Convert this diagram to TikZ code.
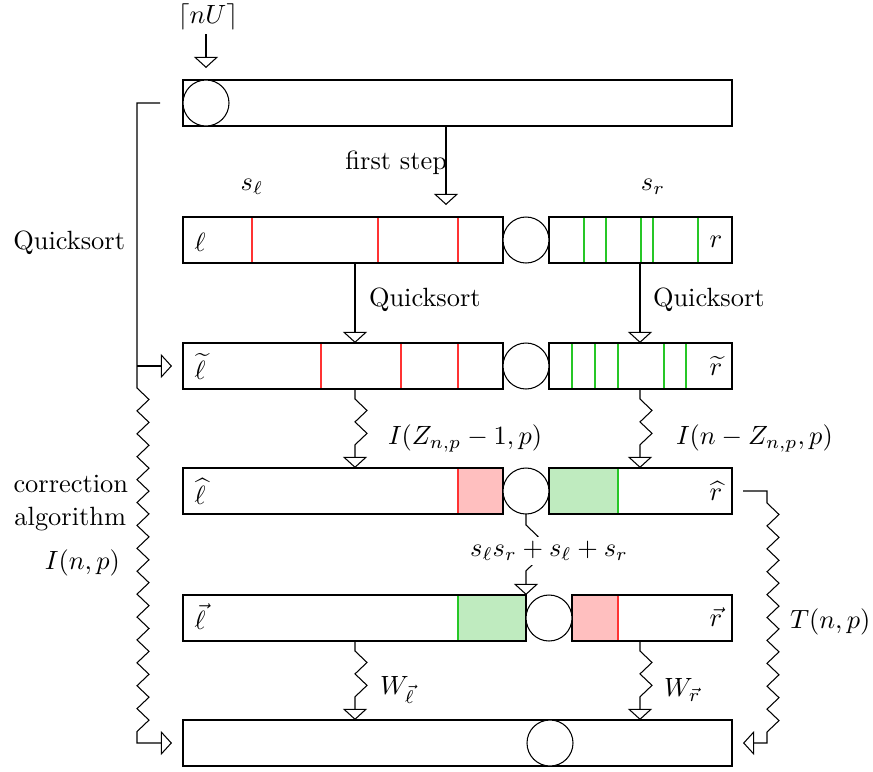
\documentclass[tikz,border=0pt]{standalone}
\usetikzlibrary{arrows.meta,calc,decorations.pathmorphing}
\pgfdeclaredecoration{halfzig}{start}{
  \state{start}[width=\pgfdecorationsegmentlength]{
    \pgfpathlineto{\pgfpoint{0.5\pgfdecorationsegmentlength}{\pgfdecorationsegmentamplitude}}
    \pgfpathlineto{\pgfpoint{\pgfdecorationsegmentlength}{0pt}}
  }
  \state{final}{\pgfpathlineto{\pgfpointdecoratedpathlast}}
}
\definecolor{redl}{rgb}{1,0.2,0.2}
\definecolor{greenl}{rgb}{0.15,0.78,0.15}
\definecolor{redfill}{rgb}{1,0.75,0.75}
\definecolor{greenfill}{rgb}{0.75,0.92,0.75}
\def\upx{0.379pt}
\begin{document}
\begin{tikzpicture}[x=0.379pt,y=-0.379pt, line width=0.4pt,
  box/.style={draw, rectangle, inner sep=0pt, outer sep=0pt, minimum height=46*\upx, anchor=north west},
  ring/.style={draw, circle, inner sep=0pt, outer sep=0pt, minimum size=46*\upx, fill=white},
  lbl/.style={inner sep=0pt, outer sep=0pt},
  arr/.style={-{Triangle[open,length=4.2pt,width=9.1pt]}},
  zzdec/.style={decoration={halfzig, segment length=8.68pt, amplitude=4.55pt}}
]
\useasboundingbox (0,0) rectangle (873,771);
% fills
\fill[redfill] (458,468) rectangle (503,514);
\fill[greenfill] (549,468) rectangle (618,514);
\fill[greenfill] (458,595) rectangle (526,641);
\fill[redfill] (572,595) rectangle (618,641);
\draw[redl] (458,468) -- (458,514);
\draw[greenl] (618,468) -- (618,514);
\draw[greenl] (458,595) -- (458,641);
\draw[redl] (618,595) -- (618,641);
\foreach \x in {252,378,458} \draw[redl] (\x,217) -- (\x,263);
\foreach \x in {584,606,641,653,698} \draw[greenl] (\x,217) -- (\x,263);
\foreach \x in {321,401,458} \draw[redl] (\x,343) -- (\x,389);
\foreach \x in {572,595,618,664,686} \draw[greenl] (\x,343) -- (\x,389);
% boxes
\node[box, minimum width=549*\upx] (b1) at (183,80) {};
\node[box, minimum width=320*\upx] (l2) at (183,217) {};
\node[box, minimum width=183*\upx] (r2) at (549,217) {};
\node[box, minimum width=320*\upx] (l3) at (183,343) {};
\node[box, minimum width=183*\upx] (r3) at (549,343) {};
\node[box, minimum width=320*\upx] (l4) at (183,468) {};
\node[box, minimum width=183*\upx] (r4) at (549,468) {};
\node[box, minimum width=343*\upx] (l5) at (183,595) {};
\node[box, minimum width=160*\upx] (r5) at (572,595) {};
\node[box, minimum width=549*\upx] (b6) at (183,720) {};
% circles
\node[ring] (c1) at (206,103) {};
\node[ring] (c2) at (526,240) {};
\node[ring] (c3) at (526,366) {};
\node[ring] (c4) at (526,491) {};
\node[ring] (c5) at (549,618) {};
\node[ring] (c6) at (550,743) {};
% labels in boxes
\node[lbl] (t2l) at (200,242) {$\ell$};
\node[lbl] (t2r) at (716,242) {$r$};
\node[lbl] (t3l) at (200,366) {$\widetilde{\ell}$};
\node[lbl] (t3r) at (716,366) {$\widetilde{r}$};
\node[lbl] (t4l) at (200,491) {$\widehat{\ell}$};
\node[lbl] (t4r) at (716,491) {$\widehat{r}$};
\node[lbl] (t5l) at (200,617) {$\vec{\ell}$};
\node[lbl] (t5r) at (716,617) {$\vec{r}$};
% other labels
\node[lbl] (nU) at (208,17) {$\lceil nU\rceil$};
\node[lbl, anchor=east] (fs) at (447,163) {first step};
\node[lbl] (sl) at (252,187) {$s_\ell$};
\node[lbl] (sr) at (653,187) {$s_r$};
\node[lbl, anchor=east] (qs) at (125,243) {Quicksort};
\node[lbl, anchor=west] (q1) at (369,300) {Quicksort};
\node[lbl, anchor=west] (q2) at (653,300) {Quicksort};
\node[lbl, anchor=west] (i1) at (388,438) {$I(Z_{n,p}-1,p)$};
\node[lbl, anchor=west] (i2) at (676,438) {$I(n-Z_{n,p},p)$};
\node[lbl, anchor=east] (corr) at (128,484) {correction};
\node[lbl, anchor=east] (alg) at (126,519) {algorithm};
\node[lbl, anchor=east] (inp) at (120,563) {$I(n,p)$};
\node[lbl, anchor=west] (tnp) at (790,622) {$T(n,p)$};
\node[lbl, anchor=west] (wl) at (380,690) {$W_{\vec{\ell}}$};
\node[lbl, anchor=west] (wr) at (664,690) {$W_{\vec{r}}$};
% connectors
\draw[arr] ($(c1.north)+(0,-46)$) -- ($(c1.north)+(0,-12)$);
\draw[arr] ($(b1.south west)+(263,0)$) -- ($(l2.north west)+(263,-12)$);
\draw[arr] ($(l2.south west)+(172,0)$) -- ($(l3.north west)+(172,0)$);
\draw[arr] ($(r2.south west)+(91,0)$) -- ($(r3.north west)+(91,0)$);
\draw[arr] ($(l3.south west)+(172,0)$) -- ++(0,10) decorate[zzdec]{-- ++(0,46)} -- ($(l4.north west)+(172,0)$);
\draw[arr] ($(r3.south west)+(91,0)$) -- ++(0,10) decorate[zzdec]{-- ++(0,46)} -- ($(r4.north west)+(91,0)$);
\draw[arr] (c4.south) -- ++(0,11) decorate[zzdec]{-- ++(0,46)} -- (l5.north east);
\draw[arr] ($(l5.south west)+(172,0)$) -- ++(0,10) decorate[zzdec]{-- ++(0,46)} -- ($(b6.north west)+(172,0)$);
\draw[arr] ($(r5.south west)+(68,0)$) -- ++(0,10) decorate[zzdec]{-- ++(0,46)} -- ($(b6.north west)+(457,0)$);
\draw[arr] ($(b1.west)+(-23,0)$) -- ($(b1.west)+(-46,0)$) -- ($(l3.west)+(-46,0)$) -- ($(l3.west)+(-46,22)$)
  decorate[zzdec]{-- ($(b6.west)+(-46,-10)$)} -- ($(b6.west)+(-46,0)$) -- ($(b6.west)+(-11,0)$);
\draw[arr] ($(l3.west)+(-46,0)$) -- ($(l3.west)+(-11,0)$);
\draw[arr] ($(r4.east)+(11,0)$) -- ($(r4.east)+(35,0)$) -- ($(r4.east)+(35,12)$)
  decorate[zzdec]{-- ($(b6.east)+(35,-10)$)} -- ($(b6.east)+(35,0)$) -- ($(b6.east)+(11,0)$);
\node[fill=white, inner sep=1.5pt] (ss) at (549,551) {$s_\ell s_r+s_\ell+s_r$};
\end{tikzpicture}
\end{document}
